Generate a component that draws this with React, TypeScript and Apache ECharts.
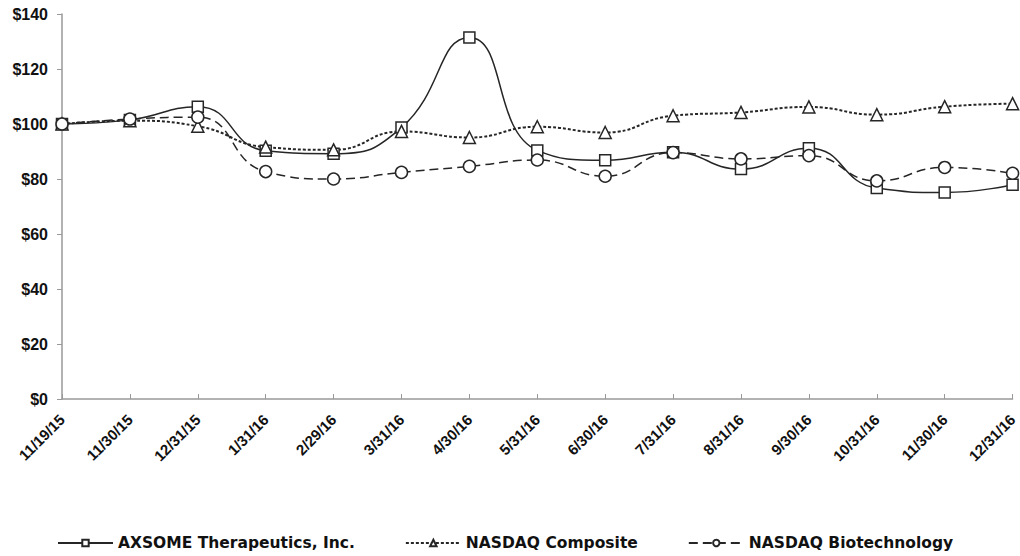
import React, { useEffect, useRef } from "react";
import * as echarts from "echarts";

const categories = ["11/19/15", "11/30/15", "12/31/15", "1/31/16", "2/29/16", "3/31/16", "4/30/16", "5/31/16", "6/30/16", "7/31/16", "8/31/16", "9/30/16", "10/31/16", "11/30/16", "12/31/16"];
const axsome = [100, 101.5, 106.3, 90.3, 89.2, 98.7, 131.5, 90.4, 86.8, 89.7, 83.6, 91.2, 76.7, 75.1, 77.9];
const composite = [100, 101.2, 99.2, 91.6, 90.6, 97.3, 95.1, 99.0, 96.9, 103.0, 104.2, 106.2, 103.4, 106.3, 107.4];
const biotech = [100, 101.8, 102.5, 82.7, 80.0, 82.4, 84.6, 86.9, 81.0, 89.6, 87.3, 88.5, 79.3, 84.2, 82.1];
const seriesNames = ["AXSOME Therapeutics, Inc.", "NASDAQ Composite", "NASDAQ Biotechnology"];
const yTicks = { min: 0, max: 140, interval: 20 };

export default function App() {
  const ref = useRef<HTMLDivElement>(null);
  useEffect(() => {
    const chart = echarts.init(ref.current!, undefined, { renderer: "svg" });
    const ink = "#262626";
    const mk = (name: string, data: number[], symbol: string, type: any, width: number, size: number) => ({
      name,
      type: "line",
      data,
      smooth: 0.5,
      symbol,
      symbolSize: size,
      showAllSymbol: true,
      lineStyle: { color: ink, width, type },
      itemStyle: { color: "#ffffff", borderColor: ink, borderWidth: 1.5 },
      emphasis: { disabled: true },
    });
    chart.setOption({
      animation: false,
      backgroundColor: "#ffffff",
      grid: { left: 62, right: 7, top: 14, bottom: 157, containLabel: false },
      legend: {
        left: 52,
        top: 530,
        itemGap: 50,
        itemWidth: 55,
        itemHeight: 8,
        textStyle: { fontFamily: "DejaVu Sans", fontWeight: "bold", fontSize: 15.5, color: "#111" },
        data: seriesNames,
      },
      xAxis: {
        type: "category",
        data: categories,
        boundaryGap: false,
        axisLine: { lineStyle: { color: "#999999", width: 1.5 } },
        axisTick: { inside: true, length: 5, alignWithLabel: true, lineStyle: { color: "#999999" } },
        axisLabel: {
          rotate: 45,
          interval: 0,
          margin: 18,
          fontFamily: "Liberation Sans",
          fontWeight: "bold",
          fontSize: 15,
          color: "#111",
        },
        splitLine: { show: false },
      },
      yAxis: {
        type: "value",
        min: yTicks.min,
        max: yTicks.max,
        interval: yTicks.interval,
        axisLine: { show: true, lineStyle: { color: "#999999", width: 1.5 } },
        axisTick: { show: true, length: 5, lineStyle: { color: "#999999" } },
        splitLine: { show: false },
        axisLabel: {
          formatter: (v: number) => "$" + v,
          margin: 14,
          fontFamily: "Liberation Sans",
          fontWeight: "bold",
          fontSize: 16,
          color: "#111",
        },
      },
      series: [
        mk(seriesNames[0], axsome, "rect", "solid", 1.5, 11),
        mk(seriesNames[1], composite, "triangle", [3, 2], 2, 12),
        mk(seriesNames[2], biotech, "circle", [9, 5], 1.5, 12),
      ],
    });
    return () => chart.dispose();
  }, []);
  return <div ref={ref} style={{ width: 1020, height: 556, position: "absolute", left: 0, top: 0 }} />;
}
